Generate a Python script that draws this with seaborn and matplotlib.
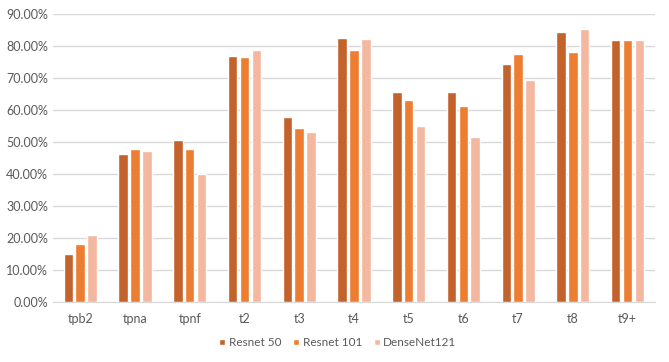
import matplotlib
matplotlib.use("Agg")
import matplotlib.pyplot as plt
import seaborn as sns
import pandas as pd
from matplotlib.ticker import FuncFormatter, MultipleLocator

categories = ["tpb2", "tpna", "tpnf", "t2", "t3", "t4", "t5", "t6", "t7", "t8", "t9+"]
resnet50 = [0.150, 0.462, 0.506, 0.768, 0.577, 0.825, 0.658, 0.658, 0.745, 0.844, 0.820]
resnet101 = [0.180, 0.477, 0.477, 0.767, 0.545, 0.787, 0.632, 0.613, 0.774, 0.780, 0.820]
densenet121 = [0.210, 0.472, 0.400, 0.787, 0.531, 0.821, 0.550, 0.516, 0.694, 0.852, 0.818]
series_names = ["Resnet 50", "Resnet 101", "DenseNet121"]
colors = ["#C4622B", "#ED7D31", "#F4B8A0"]

rows = []
for name, vals in zip(series_names, [resnet50, resnet101, densenet121]):
    for c, v in zip(categories, vals):
        rows.append({"category": c, "model": name, "value": v})
df = pd.DataFrame(rows)

sns.set_style("white")
plt.rcParams['font.family'] = ['Lato', 'DejaVu Sans']

fig = plt.figure(figsize=(6.69, 3.62), dpi=100)
ax = fig.add_axes([0.079, 0.166, 0.900, 0.795])
sns.barplot(data=df, x="category", y="value", hue="model", order=categories,
            hue_order=series_names, palette=colors, width=0.65, gap=0.2,
            saturation=1, ax=ax, legend=True, zorder=3)

ax.set_ylim(0, 0.9)
ax.yaxis.set_major_locator(MultipleLocator(0.1))
ax.yaxis.set_major_formatter(FuncFormatter(lambda v, p: f"{v*100:.2f}%"))
ax.grid(axis="y", color="#D9D9D9", linewidth=1, zorder=0)
ax.set_axisbelow(True)
for s in ["top", "right", "left"]:
    ax.spines[s].set_visible(False)
ax.spines["bottom"].set_color("#D9D9D9")
ax.tick_params(axis="both", length=0, colors="#595959", labelsize=9)
ax.tick_params(axis="x", pad=8)
ax.set_xlabel("")
ax.set_ylabel("")
ax.set_xlim(-0.5, len(categories) - 0.5)

handles, labels = ax.get_legend_handles_labels()
ax.legend_.remove()
fig.legend(handles, labels, loc="center", bbox_to_anchor=(0.505, 0.053), ncol=3,
           frameon=False, fontsize=8.5, handlelength=0.5, handleheight=0.5,
           handletextpad=0.3, columnspacing=1.0, labelcolor="#595959")

fig.savefig("out.png", dpi=100)
